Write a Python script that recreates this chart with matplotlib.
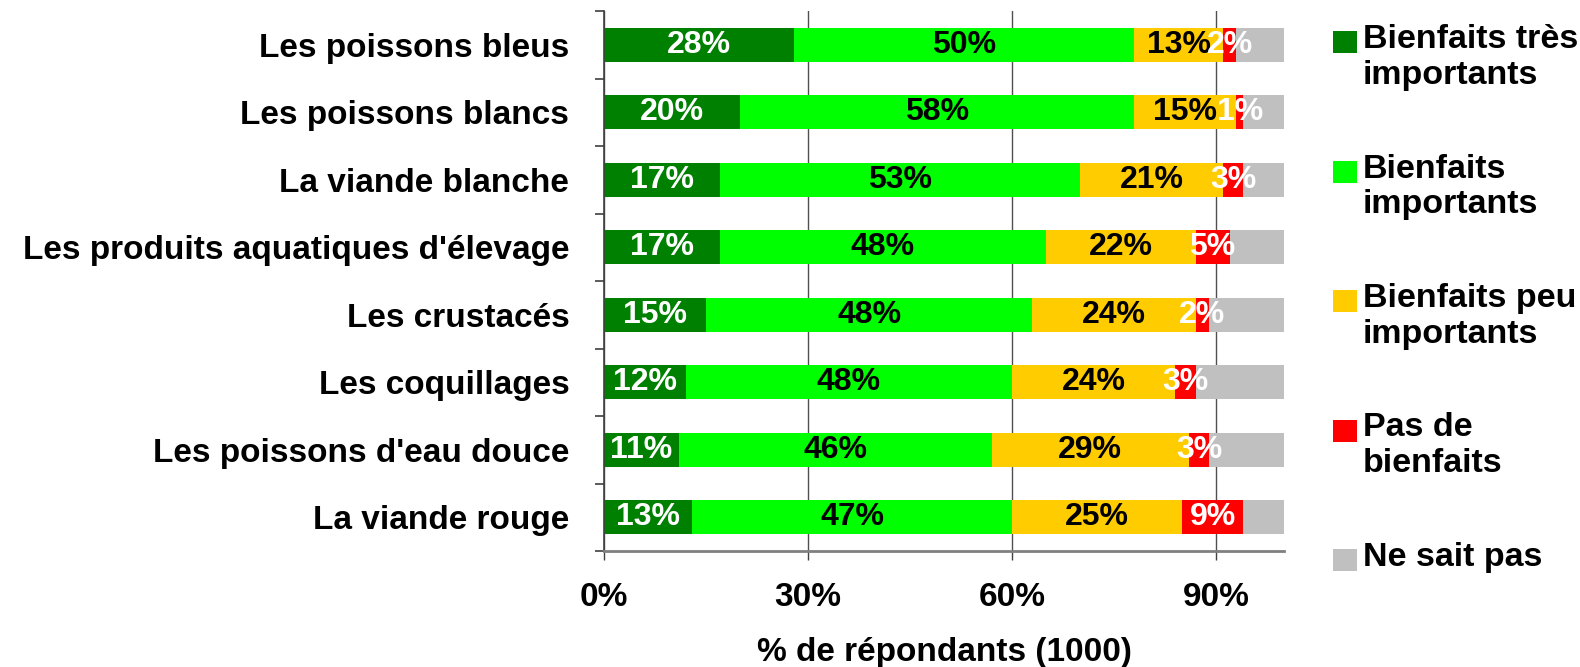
import numpy as np
import matplotlib
matplotlib.use('Agg')
import matplotlib.pyplot as plt
from matplotlib.patches import Rectangle
from matplotlib.ticker import FixedLocator, FuncFormatter

# Survey answers per food category, in % of respondents (n=1000)
categories = [
    "Les poissons bleus",
    "Les poissons blancs",
    "La viande blanche",
    "Les produits aquatiques d'élevage",
    "Les crustacés",
    "Les coquillages",
    "Les poissons d'eau douce",
    "La viande rouge",
]
tres_importants = [28, 20, 17, 17, 15, 12, 11, 13]
importants = [50, 58, 53, 48, 48, 48, 46, 47]
peu_importants = [13, 15, 21, 22, 24, 24, 29, 25]
pas_de_bienfaits = [2, 1, 3, 5, 2, 3, 3, 9]
ne_sait_pas = [7, 6, 6, 8, 11, 13, 11, 6]

series_labels = [
    "Bienfaits très\nimportants",
    "Bienfaits\nimportants",
    "Bienfaits peu\nimportants",
    "Pas de\nbienfaits",
    "Ne sait pas",
]
series_colors = ['#008000', '#00FF00', '#FFCC00', '#FF0000', '#C0C0C0']
text_colors = ['white', 'black', 'black', 'white', None]  # no label on "Ne sait pas"
x_ticks = [0, 30, 60, 90]

plt.rcParams['font.family'] = ['Liberation Sans', 'DejaVu Sans']
plt.rcParams['font.weight'] = 'bold'

W, H = 1580, 667
fig = plt.figure(figsize=(W / 100, H / 100), dpi=100)
ax = fig.add_axes([604 / W, 1 - 551 / H, 680 / W, 540 / H])

series = [tres_importants, importants, peu_importants, pas_de_bienfaits, ne_sait_pas]
y = np.arange(len(categories))
left = np.zeros(len(categories))
for vals, color, tcol in zip(series, series_colors, text_colors):
    vals = np.array(vals, dtype=float)
    bars = ax.barh(y, vals, left=left, height=0.5, color=color, edgecolor='none')
    if tcol is not None:
        ax.bar_label(bars, labels=[f'{v:.0f}%' for v in vals], label_type='center',
                     color=tcol, fontsize=23, fontweight='bold')
    left += vals

ax.set_xlim(0, 100)
ax.set_ylim(len(categories) - 0.5, -0.5)
ax.set_axisbelow(True)
ax.grid(axis='x', color='#505050', linewidth=1)
ax.grid(axis='y', visible=False)

ax.xaxis.set_major_locator(FixedLocator(x_ticks))
ax.xaxis.set_major_formatter(FuncFormatter(lambda v, p: f'{v:.0f}%'))
ax.tick_params(axis='x', direction='out', length=6.5, width=1, color='#404040',
               labelsize=24, pad=16)
ax.set_xlabel('% de répondants (1000)', fontsize=24, fontweight='bold', labelpad=17)

ax.set_yticks(y)
ax.set_yticklabels(categories)
ax.yaxis.set_minor_locator(FixedLocator(np.arange(-0.5, len(categories), 1)))
ax.tick_params(axis='y', which='major', length=0, labelsize=24, pad=25)
ax.tick_params(axis='y', which='minor', direction='out', length=6.5, width=1.2,
               color='#404040')

for side in ('top', 'right'):
    ax.spines[side].set_visible(False)
ax.spines['left'].set_color('#404040')
ax.spines['left'].set_linewidth(1.2)
ax.spines['bottom'].set_color('#808080')
ax.spines['bottom'].set_linewidth(2)

# Legend drawn by hand: square aligned with the first line of each label
leg_x, leg_top, leg_step = 1333, 42, 129.5
for i, (lab, color) in enumerate(zip(series_labels, series_colors)):
    cy = leg_top + i * leg_step
    fig.patches.append(Rectangle((leg_x / W, 1 - (cy + 11) / H), 24 / W, 22 / H,
                                 transform=fig.transFigure, facecolor=color,
                                 edgecolor='none'))
    fig.text((leg_x + 30) / W, 1 - (cy - 18) / H, lab, fontsize=24.5,
             fontweight='bold', va='top', ha='left', linespacing=1.2)

fig.savefig('out.png', dpi=100)
